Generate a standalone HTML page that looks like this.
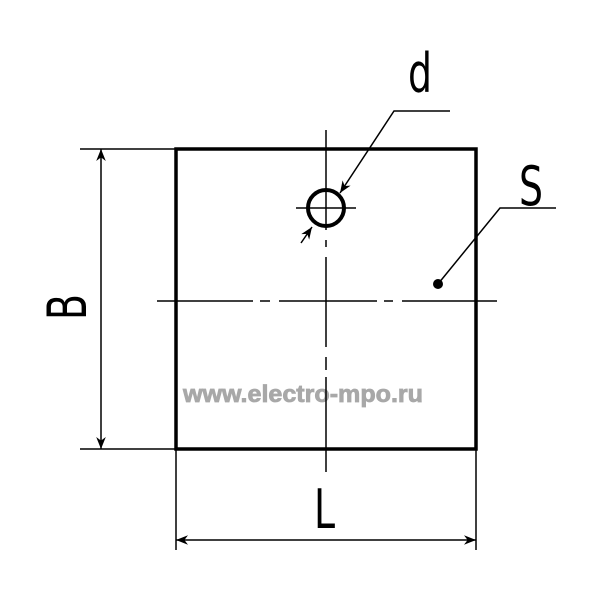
<!DOCTYPE html>
<html><head><style>html,body{margin:0;padding:0;background:#fff;}svg{display:block}</style></head>
<body>
<svg width="600" height="600" viewBox="0 0 600 600" xmlns="http://www.w3.org/2000/svg">
<defs>
<marker id="a" viewBox="0 0 10 10" refX="10" refY="5" markerWidth="12" markerHeight="12" markerUnits="userSpaceOnUse" orient="auto-start-reverse"><path d="M0,1 L10,5 L0,9 L3,5 Z" fill="#000"/></marker>
</defs>
<text x="303" y="402" font-family="Liberation Sans, sans-serif" font-weight="bold" font-size="24" fill="#a8a8a8" stroke="#a8a8a8" stroke-width="0.8" text-anchor="middle" textLength="240" lengthAdjust="spacingAndGlyphs">www.electro-mpo.ru</text>
<g stroke="#000" fill="none">
<rect x="176" y="149" width="300" height="300" stroke-width="3.5"/>
<path stroke-width="1.5" d="M157 301H253 M260 301H270 M279 301H377 M384 301H393 M402 301H497"/>
<path stroke-width="1.5" d="M326 130V230 M326 240V247 M326 257V347 M326 357V370 M326 377V472"/>
<path stroke-width="1.5" d="M296 208H356"/>
<circle cx="326" cy="208" r="18" stroke-width="4"/>
<path stroke-width="1.5" d="M450 111H394 L340 193" marker-end="url(#a)"/>
<path stroke-width="1.5" d="M301 243 L312 227" marker-end="url(#a)"/>
<path stroke-width="1.5" d="M556 208H500 L438 284"/>
<path stroke-width="1.5" d="M80 149H176 M80 449H176"/>
<path stroke-width="1.5" d="M101 149V449" marker-start="url(#a)" marker-end="url(#a)"/>
<path stroke-width="1.5" d="M176 449V550 M476 449V550"/>
<path stroke-width="1.5" d="M176 540H476" marker-start="url(#a)" marker-end="url(#a)"/>
</g>
<circle cx="438" cy="284" r="5" fill="#000"/>
<g font-family="DejaVu Sans, sans-serif" font-size="54" fill="#000">
<text transform="translate(408,92) scale(0.7,1)">d</text>
<text transform="translate(519,205) scale(0.7,1)">S</text>
<text transform="translate(314,528) scale(0.7,1)">L</text>
<text transform="translate(86,320) rotate(-90) scale(0.7,1)">B</text>
</g>
</svg>
</body></html>
